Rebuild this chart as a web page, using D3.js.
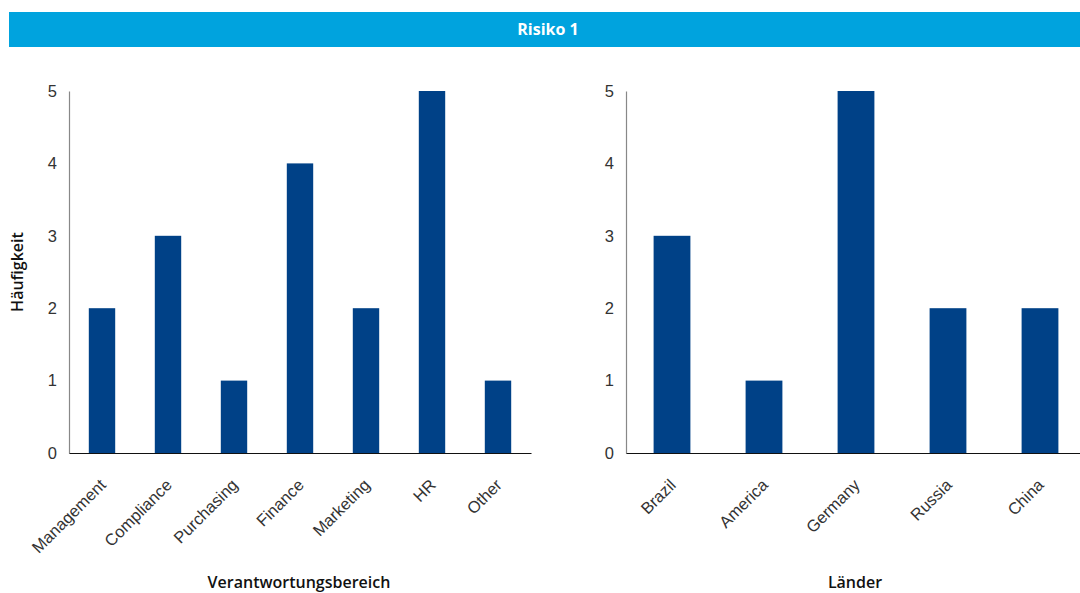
<!DOCTYPE html>
<html>
<head>
<meta charset="utf-8">
<script src="https://cdn.jsdelivr.net/npm/d3@7"></script>
<style>
  body { margin: 0; background: #fff; }
  svg { display: block; font-family: "Open Sans", "Noto Sans", sans-serif; }
  .tick-label { font-size: 16.5px; fill: #333; font-weight: 300; }
  .axis-title { font-size: 16px; fill: #111; font-weight: 600; }
</style>
</head>
<body>
<svg id="chart" width="1080" height="593"></svg>
<script>
const title = 'Risiko 1';
const yTitle = 'Häufigkeit';
const yTicks = [0, 1, 2, 3, 4, 5];

const areaCategories = ['Management', 'Compliance', 'Purchasing', 'Finance', 'Marketing', 'HR', 'Other'];
const areaValues = [2, 3, 1, 4, 2, 5, 1];
const areaTitle = 'Verantwortungsbereich';

const countryCategories = ['Brazil', 'America', 'Germany', 'Russia', 'China'];
const countryValues = [3, 1, 5, 2, 2];
const countryTitle = 'Länder';

const barColor = '#004187';
const svg = d3.select('#chart');

// title banner
svg.append('rect')
    .attr('x', 9).attr('y', 12)
    .attr('width', 1071).attr('height', 35)
    .attr('fill', '#00a3de');
svg.append('text')
    .attr('x', 548).attr('y', 35)
    .attr('text-anchor', 'middle')
    .attr('fill', '#fff')
    .style('font-size', '16px')
    .style('font-weight', 700)
    .text(title);

const plotTop = 91, plotBottom = 453;
const scaleY = d3.scaleLinear().domain([0, 5]).range([plotBottom, plotTop]);

function drawPanel(categories, values, x0, x1, axisTitle, titleX) {
    const scaleX = d3.scaleBand()
        .domain(categories)
        .range([x0, x1])
        .paddingInner(0.6)
        .paddingOuter(0.3);

    const g = svg.append('g');

    g.selectAll('rect.bar')
        .data(categories)
        .enter()
        .append('rect')
        .attr('class', 'bar')
        .attr('x', d => scaleX(d))
        .attr('y', (d, i) => scaleY(values[i]))
        .attr('width', scaleX.bandwidth())
        .attr('height', (d, i) => plotBottom - scaleY(values[i]))
        .attr('fill', barColor);

    // y axis, labels only, gray spine
    const yAxis = g.append('g')
        .attr('transform', `translate(${x0}, 0)`)
        .call(d3.axisLeft(scaleY).tickValues(yTicks).tickSize(0).tickPadding(12).tickFormat(d3.format('d')));
    yAxis.select('.domain').attr('stroke', '#888').attr('stroke-width', 1.2);
    yAxis.selectAll('text').attr('class', 'tick-label');

    // x axis
    const xAxis = g.append('g')
        .attr('transform', `translate(0, ${plotBottom})`)
        .call(d3.axisBottom(scaleX).tickSize(0).tickPadding(0));
    xAxis.select('.domain').attr('stroke', '#111').attr('stroke-width', 1.2);
    xAxis.selectAll('text')
        .attr('class', 'tick-label')
        .style('text-anchor', 'end')
        .attr('x', -3)
        .attr('y', 24)
        .attr('dy', '0.6em')
        .attr('transform', 'rotate(-45, 0, 24)');

    svg.append('text')
        .attr('class', 'axis-title')
        .attr('x', titleX).attr('y', 588)
        .attr('text-anchor', 'middle')
        .text(axisTitle);
}

drawPanel(areaCategories, areaValues, 69, 531, areaTitle, 299);
drawPanel(countryCategories, countryValues, 626, 1086, countryTitle, 855);

svg.append('text')
    .attr('class', 'axis-title')
    .attr('transform', 'translate(23, 272) rotate(-90)')
    .attr('text-anchor', 'middle')
    .text(yTitle);
</script>
</body>
</html>
